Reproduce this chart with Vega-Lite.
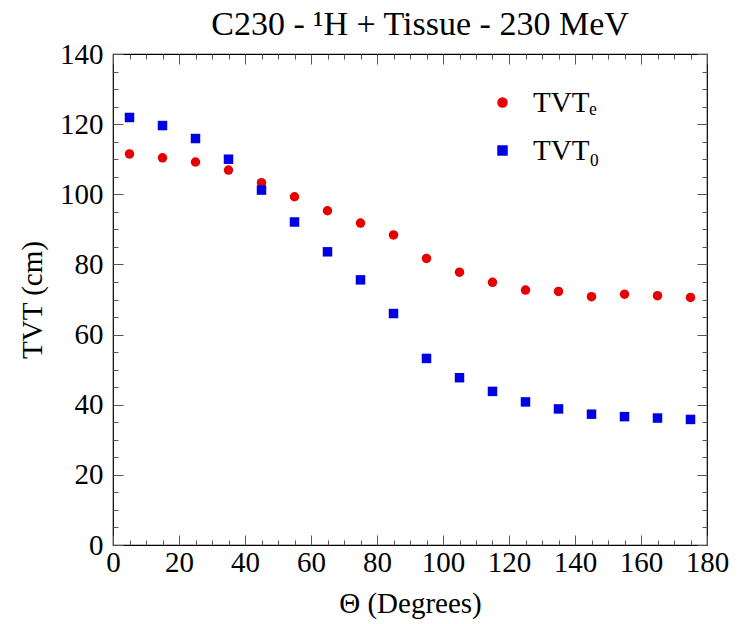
{
  "$schema": "https://vega.github.io/schema/vega-lite/v6.json",
  "width": 594,
  "height": 491,
  "autosize": "none",
  "padding": {"left": 113, "top": 54, "right": 40, "bottom": 79},
  "background": "white",
  "config": {
    "font": "Liberation Serif",
    "view": {"stroke": "#000000", "strokeWidth": 1.2},
    "style": {"guide-label": {"font": "Liberation Serif"}, "guide-title": {"font": "Liberation Serif"}, "group-title": {"font": "Liberation Serif"}},
    "axis": {"grid": false, "domain": false, "tickColor": "#555555", "labelColor": "#000000", "titleColor": "#000000", "labelFont": "Liberation Serif", "titleFont": "Liberation Serif", "titleFontWeight": "normal"},
    "legend": {"labelFont": "Liberation Serif"}
  },
  "title": {"text": "C230 - ¹H + Tissue - 230 MeV", "font": "Liberation Serif", "fontSize": 34, "fontWeight": "normal", "color": "#000000", "anchor": "middle", "offset": -2, "dx": 10},
  "data": {"values": [
    {"theta": 5, "series": "TVTₑ", "tvt": 111.5}, {"theta": 15, "series": "TVTₑ", "tvt": 110.4}, {"theta": 25, "series": "TVTₑ", "tvt": 109.2},
    {"theta": 35, "series": "TVTₑ", "tvt": 106.9}, {"theta": 45, "series": "TVTₑ", "tvt": 103.3}, {"theta": 55, "series": "TVTₑ", "tvt": 99.3},
    {"theta": 65, "series": "TVTₑ", "tvt": 95.3}, {"theta": 75, "series": "TVTₑ", "tvt": 91.8}, {"theta": 85, "series": "TVTₑ", "tvt": 88.4},
    {"theta": 95, "series": "TVTₑ", "tvt": 81.7}, {"theta": 105, "series": "TVTₑ", "tvt": 77.8}, {"theta": 115, "series": "TVTₑ", "tvt": 74.9},
    {"theta": 125, "series": "TVTₑ", "tvt": 72.7}, {"theta": 135, "series": "TVTₑ", "tvt": 72.3}, {"theta": 145, "series": "TVTₑ", "tvt": 70.8},
    {"theta": 155, "series": "TVTₑ", "tvt": 71.5}, {"theta": 165, "series": "TVTₑ", "tvt": 71.1}, {"theta": 175, "series": "TVTₑ", "tvt": 70.6},
    {"theta": 5, "series": "TVT₀", "tvt": 121.9}, {"theta": 15, "series": "TVT₀", "tvt": 119.6}, {"theta": 25, "series": "TVT₀", "tvt": 115.9},
    {"theta": 35, "series": "TVT₀", "tvt": 110.0}, {"theta": 45, "series": "TVT₀", "tvt": 101.2}, {"theta": 55, "series": "TVT₀", "tvt": 92.1},
    {"theta": 65, "series": "TVT₀", "tvt": 83.6}, {"theta": 75, "series": "TVT₀", "tvt": 75.6}, {"theta": 85, "series": "TVT₀", "tvt": 66.0},
    {"theta": 95, "series": "TVT₀", "tvt": 53.2}, {"theta": 105, "series": "TVT₀", "tvt": 47.7}, {"theta": 115, "series": "TVT₀", "tvt": 43.8},
    {"theta": 125, "series": "TVT₀", "tvt": 40.8}, {"theta": 135, "series": "TVT₀", "tvt": 38.8}, {"theta": 145, "series": "TVT₀", "tvt": 37.3},
    {"theta": 155, "series": "TVT₀", "tvt": 36.6}, {"theta": 165, "series": "TVT₀", "tvt": 36.2}, {"theta": 175, "series": "TVT₀", "tvt": 35.8}
  ]},
  "resolve": {"axis": {"x": "independent", "y": "independent"}},
  "layer": [
    {
      "mark": {"type": "point", "filled": true, "opacity": 1, "size": 90},
      "encoding": {
        "x": {"field": "theta", "type": "quantitative",
          "scale": {"domain": [0, 180], "nice": false, "zero": false},
          "axis": {"orient": "bottom", "title": "Θ (Degrees)", "titleFontSize": 29, "titlePadding": 12, "labelFont": "Liberation Serif", "titleFont": "Liberation Serif",
            "values": [0,5,10,15,20,25,30,35,40,45,50,55,60,65,70,75,80,85,90,95,100,105,110,115,120,125,130,135,140,145,150,155,160,165,170,175,180],
            "labelExpr": "datum.value % 20 === 0 ? datum.label : ''",
            "labelFontSize": 29, "labelPadding": 13, "labelFlush": false,
            "tickSize": {"condition": {"test": "datum.value % 20 === 0", "value": -10}, "value": -5}}},
        "y": {"field": "tvt", "type": "quantitative",
          "scale": {"domain": [0, 140], "nice": false},
          "axis": {"orient": "left", "title": "TVT (cm)", "titleFontSize": 29, "titlePadding": 12, "labelFont": "Liberation Serif", "titleFont": "Liberation Serif",
            "values": [0,5,10,15,20,25,30,35,40,45,50,55,60,65,70,75,80,85,90,95,100,105,110,115,120,125,130,135,140],
            "labelExpr": "datum.value % 20 === 0 ? datum.label : ''",
            "labelFontSize": 29, "labelPadding": 20, "labelFlush": false,
            "tickSize": {"condition": {"test": "datum.value % 20 === 0", "value": -10}, "value": -5}}},
        "color": {"field": "series", "type": "nominal",
          "scale": {"domain": ["TVTₑ", "TVT₀"], "range": ["#e60000", "#0000e6"]},
          "legend": {"orient": "none", "legendX": 375, "legendY": 34, "title": null, "labelFontSize": 29, "labelFont": "Liberation Serif", "symbolSize": 110, "rowPadding": 18, "labelOffset": 16,
            "encode": {"labels": {"update": {"fill": {"scale": "color", "field": "value"}}}}}},
        "shape": {"field": "series", "type": "nominal",
          "scale": {"domain": ["TVTₑ", "TVT₀"], "range": ["circle", "square"]}}
      }
    },
    {
      "mark": {"type": "point", "opacity": 0},
      "encoding": {
        "x": {"field": "theta", "type": "quantitative",
          "axis": {"orient": "top", "title": null, "labels": false,
            "values": [0,5,10,15,20,25,30,35,40,45,50,55,60,65,70,75,80,85,90,95,100,105,110,115,120,125,130,135,140,145,150,155,160,165,170,175,180],
            "tickSize": {"condition": {"test": "datum.value % 20 === 0", "value": -10}, "value": -5}}},
        "y": {"field": "tvt", "type": "quantitative",
          "axis": {"orient": "right", "title": null, "labels": false,
            "values": [0,5,10,15,20,25,30,35,40,45,50,55,60,65,70,75,80,85,90,95,100,105,110,115,120,125,130,135,140],
            "tickSize": {"condition": {"test": "datum.value % 20 === 0", "value": -10}, "value": -5}}}
      }
    }
  ]
}
